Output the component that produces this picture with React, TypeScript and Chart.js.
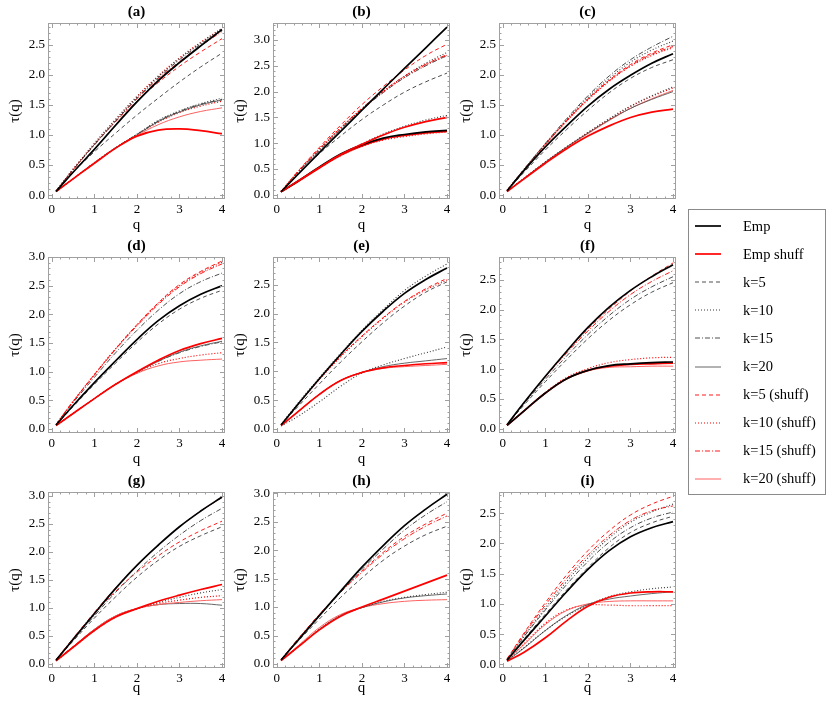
import React, { useEffect, useRef } from 'react';
import { Chart, registerables } from 'chart.js';

Chart.register(...registerables);

// ---------------- data ----------------
const Q = [0.1, 0.5, 1, 1.5, 2, 2.5, 3, 3.5, 4];

const LEGEND_LABELS = [
  'Emp', 'Emp shuff', 'k=5', 'k=10', 'k=15', 'k=20',
  'k=5 (shuff)', 'k=10 (shuff)', 'k=15 (shuff)', 'k=20 (shuff)',
];

const PANEL_TITLES = ['(a)', '(b)', '(c)', '(d)', '(e)', '(f)', '(g)', '(h)', '(i)'];
const X_TICKS = [0, 1, 2, 3, 4];
const Y_MIN = [-0.065, -0.08, -0.065, -0.07, -0.07, -0.07, -0.07, -0.07, -0.06];
const Y_MAX = [2.86, 3.33, 2.86, 3.0, 2.98, 2.88, 3.07, 3.02, 2.85];

// each entry: [legend series index, tau values at Q]
type Line = [number, number[]];

const PANEL_A: Line[] = [
  [0, [0.06, 0.38, 0.76, 1.16, 1.55, 1.90, 2.20, 2.48, 2.75]],
  [5, [0.06, 0.38, 0.77, 1.17, 1.56, 1.91, 2.21, 2.49, 2.76]],
  [2, [0.07, 0.38, 0.72, 1.03, 1.33, 1.61, 1.88, 2.13, 2.36]],
  [3, [0.07, 0.43, 0.85, 1.25, 1.63, 1.97, 2.27, 2.53, 2.77]],
  [4, [0.07, 0.42, 0.83, 1.23, 1.61, 1.95, 2.25, 2.51, 2.75]],
  [6, [0.07, 0.42, 0.84, 1.22, 1.56, 1.87, 2.14, 2.38, 2.60]],
  [7, [0.07, 0.43, 0.86, 1.26, 1.64, 1.98, 2.28, 2.54, 2.77]],
  [8, [0.07, 0.42, 0.84, 1.23, 1.60, 1.93, 2.22, 2.48, 2.72]],
  [1, [0.06, 0.27, 0.53, 0.78, 0.98, 1.08, 1.10, 1.07, 1.02]],
  [9, [0.06, 0.27, 0.53, 0.78, 0.99, 1.17, 1.30, 1.39, 1.45]],
  [3, [0.06, 0.27, 0.54, 0.79, 1.01, 1.24, 1.40, 1.52, 1.61]],
  [4, [0.06, 0.27, 0.54, 0.79, 1.01, 1.23, 1.39, 1.51, 1.59]],
  [5, [0.06, 0.27, 0.53, 0.78, 1.00, 1.22, 1.38, 1.50, 1.58]],
  [7, [0.06, 0.27, 0.53, 0.78, 1.00, 1.21, 1.37, 1.48, 1.56]],
];

const PANEL_B: Line[] = [
  [0, [0.06, 0.40, 0.82, 1.23, 1.64, 2.05, 2.45, 2.85, 3.25]],
  [6, [0.07, 0.46, 0.92, 1.35, 1.75, 2.10, 2.42, 2.70, 2.92]],
  [8, [0.07, 0.45, 0.89, 1.30, 1.68, 2.01, 2.30, 2.53, 2.72]],
  [7, [0.07, 0.45, 0.89, 1.30, 1.67, 2.00, 2.28, 2.52, 2.70]],
  [3, [0.07, 0.44, 0.87, 1.28, 1.66, 2.00, 2.30, 2.55, 2.76]],
  [4, [0.07, 0.44, 0.86, 1.27, 1.65, 1.98, 2.27, 2.50, 2.70]],
  [2, [0.07, 0.41, 0.80, 1.14, 1.46, 1.74, 1.99, 2.19, 2.36]],
  [1, [0.06, 0.27, 0.53, 0.78, 0.98, 1.16, 1.31, 1.42, 1.50]],
  [3, [0.06, 0.27, 0.53, 0.78, 0.99, 1.18, 1.33, 1.45, 1.54]],
  [0, [0.06, 0.27, 0.54, 0.79, 0.97, 1.10, 1.17, 1.22, 1.25]],
  [1, [0.06, 0.26, 0.52, 0.77, 0.95, 1.08, 1.15, 1.20, 1.23]],
  [7, [0.06, 0.26, 0.52, 0.76, 0.94, 1.06, 1.13, 1.18, 1.22]],
];

const PANEL_C: Line[] = [
  [0, [0.07, 0.41, 0.80, 1.15, 1.48, 1.76, 1.99, 2.19, 2.35]],
  [4, [0.08, 0.43, 0.86, 1.27, 1.65, 1.98, 2.25, 2.46, 2.64]],
  [3, [0.08, 0.43, 0.85, 1.25, 1.62, 1.94, 2.21, 2.41, 2.56]],
  [6, [0.08, 0.43, 0.85, 1.24, 1.60, 1.91, 2.17, 2.36, 2.50]],
  [7, [0.08, 0.42, 0.84, 1.23, 1.58, 1.89, 2.14, 2.32, 2.45]],
  [8, [0.08, 0.43, 0.84, 1.23, 1.59, 1.90, 2.15, 2.34, 2.47]],
  [2, [0.07, 0.38, 0.75, 1.09, 1.41, 1.70, 1.94, 2.12, 2.25]],
  [1, [0.06, 0.27, 0.53, 0.77, 0.98, 1.15, 1.29, 1.38, 1.43]],
  [3, [0.06, 0.28, 0.55, 0.80, 1.04, 1.27, 1.48, 1.65, 1.80]],
  [7, [0.06, 0.28, 0.55, 0.80, 1.04, 1.26, 1.47, 1.64, 1.78]],
  [5, [0.06, 0.28, 0.55, 0.80, 1.03, 1.25, 1.44, 1.59, 1.72]],
  [9, [0.06, 0.28, 0.54, 0.79, 1.02, 1.24, 1.44, 1.60, 1.74]],
];

const PANEL_D: Line[] = [
  [0, [0.07, 0.41, 0.81, 1.19, 1.56, 1.89, 2.15, 2.35, 2.50]],
  [6, [0.08, 0.48, 0.95, 1.40, 1.82, 2.20, 2.52, 2.75, 2.93]],
  [8, [0.08, 0.48, 0.94, 1.39, 1.80, 2.17, 2.48, 2.71, 2.88]],
  [7, [0.08, 0.48, 0.95, 1.40, 1.81, 2.19, 2.50, 2.73, 2.91]],
  [4, [0.08, 0.46, 0.90, 1.33, 1.72, 2.07, 2.36, 2.57, 2.72]],
  [2, [0.07, 0.39, 0.78, 1.15, 1.51, 1.83, 2.09, 2.28, 2.42]],
  [1, [0.06, 0.27, 0.53, 0.78, 1.00, 1.20, 1.37, 1.49, 1.58]],
  [5, [0.06, 0.27, 0.53, 0.78, 0.99, 1.18, 1.34, 1.45, 1.53]],
  [4, [0.06, 0.27, 0.53, 0.78, 0.99, 1.18, 1.33, 1.44, 1.52]],
  [7, [0.06, 0.27, 0.53, 0.78, 0.98, 1.14, 1.23, 1.29, 1.33]],
  [9, [0.06, 0.27, 0.53, 0.78, 0.97, 1.10, 1.17, 1.20, 1.22]],
];

const PANEL_E: Line[] = [
  [0, [0.07, 0.43, 0.87, 1.29, 1.69, 2.04, 2.35, 2.59, 2.79]],
  [3, [0.08, 0.45, 0.89, 1.31, 1.71, 2.07, 2.40, 2.65, 2.86]],
  [6, [0.07, 0.43, 0.86, 1.26, 1.61, 1.93, 2.21, 2.43, 2.61]],
  [7, [0.07, 0.43, 0.86, 1.25, 1.60, 1.92, 2.20, 2.41, 2.58]],
  [2, [0.07, 0.39, 0.78, 1.16, 1.51, 1.84, 2.13, 2.37, 2.55]],
  [1, [0.06, 0.30, 0.60, 0.84, 0.98, 1.06, 1.10, 1.13, 1.15]],
  [3, [0.05, 0.22, 0.47, 0.74, 0.97, 1.11, 1.22, 1.32, 1.42]],
  [5, [0.06, 0.30, 0.60, 0.84, 0.98, 1.08, 1.14, 1.18, 1.22]],
  [9, [0.06, 0.30, 0.60, 0.84, 0.98, 1.05, 1.08, 1.10, 1.12]],
];

const PANEL_F: Line[] = [
  [0, [0.07, 0.44, 0.88, 1.30, 1.70, 2.04, 2.32, 2.55, 2.75]],
  [6, [0.07, 0.44, 0.88, 1.29, 1.67, 2.01, 2.31, 2.56, 2.78]],
  [8, [0.07, 0.44, 0.87, 1.27, 1.64, 1.97, 2.25, 2.47, 2.65]],
  [4, [0.07, 0.42, 0.83, 1.22, 1.58, 1.90, 2.17, 2.38, 2.55]],
  [2, [0.07, 0.40, 0.79, 1.16, 1.51, 1.82, 2.08, 2.29, 2.45]],
  [0, [0.06, 0.30, 0.60, 0.84, 0.98, 1.06, 1.09, 1.11, 1.12]],
  [1, [0.06, 0.30, 0.60, 0.84, 0.98, 1.05, 1.08, 1.09, 1.10]],
  [7, [0.06, 0.30, 0.61, 0.86, 1.01, 1.11, 1.16, 1.19, 1.20]],
  [9, [0.06, 0.30, 0.60, 0.84, 0.97, 1.03, 1.04, 1.05, 1.05]],
];

const PANEL_G: Line[] = [
  [0, [0.07, 0.44, 0.90, 1.35, 1.76, 2.12, 2.45, 2.73, 2.98]],
  [8, [0.08, 0.46, 0.92, 1.36, 1.76, 2.12, 2.45, 2.73, 2.97]],
  [4, [0.07, 0.43, 0.86, 1.28, 1.66, 2.00, 2.30, 2.56, 2.78]],
  [6, [0.08, 0.45, 0.90, 1.30, 1.64, 1.93, 2.18, 2.38, 2.55]],
  [2, [0.07, 0.41, 0.82, 1.20, 1.55, 1.85, 2.10, 2.29, 2.45]],
  [1, [0.06, 0.30, 0.60, 0.84, 0.99, 1.12, 1.23, 1.33, 1.42]],
  [3, [0.06, 0.30, 0.60, 0.84, 0.99, 1.10, 1.19, 1.27, 1.33]],
  [7, [0.06, 0.30, 0.60, 0.84, 0.99, 1.08, 1.14, 1.19, 1.22]],
  [9, [0.06, 0.31, 0.62, 0.86, 0.99, 1.06, 1.10, 1.13, 1.15]],
  [5, [0.06, 0.31, 0.62, 0.86, 0.99, 1.06, 1.08, 1.08, 1.05]],
];

const PANEL_H: Line[] = [
  [0, [0.07, 0.42, 0.85, 1.28, 1.70, 2.08, 2.43, 2.72, 2.98]],
  [4, [0.07, 0.42, 0.85, 1.26, 1.66, 2.02, 2.35, 2.62, 2.85]],
  [6, [0.08, 0.44, 0.87, 1.27, 1.63, 1.96, 2.24, 2.46, 2.65]],
  [8, [0.08, 0.44, 0.87, 1.26, 1.61, 1.93, 2.20, 2.42, 2.60]],
  [2, [0.07, 0.40, 0.79, 1.17, 1.51, 1.82, 2.07, 2.27, 2.42]],
  [1, [0.06, 0.30, 0.60, 0.84, 1.00, 1.14, 1.28, 1.42, 1.56]],
  [3, [0.06, 0.30, 0.61, 0.85, 0.99, 1.10, 1.17, 1.22, 1.26]],
  [5, [0.06, 0.30, 0.61, 0.85, 0.99, 1.09, 1.16, 1.20, 1.23]],
  [9, [0.06, 0.32, 0.64, 0.87, 0.99, 1.06, 1.10, 1.12, 1.13]],
];

const PANEL_I: Line[] = [
  [0, [0.07, 0.40, 0.80, 1.20, 1.57, 1.88, 2.11, 2.26, 2.36]],
  [6, [0.09, 0.52, 1.02, 1.48, 1.88, 2.21, 2.47, 2.65, 2.78]],
  [8, [0.09, 0.50, 0.98, 1.42, 1.81, 2.13, 2.38, 2.54, 2.62]],
  [3, [0.08, 0.47, 0.93, 1.37, 1.76, 2.09, 2.35, 2.52, 2.65]],
  [4, [0.08, 0.46, 0.90, 1.32, 1.70, 2.02, 2.26, 2.42, 2.52]],
  [2, [0.07, 0.42, 0.83, 1.23, 1.60, 1.93, 2.18, 2.34, 2.45]],
  [1, [0.05, 0.20, 0.44, 0.72, 0.96, 1.11, 1.18, 1.20, 1.20]],
  [3, [0.06, 0.28, 0.56, 0.80, 0.98, 1.12, 1.20, 1.25, 1.28]],
  [5, [0.06, 0.27, 0.56, 0.81, 0.99, 1.08, 1.13, 1.17, 1.20]],
  [9, [0.07, 0.33, 0.66, 0.89, 1.00, 1.04, 1.05, 1.05, 1.05]],
  [7, [0.07, 0.34, 0.68, 0.90, 0.98, 0.98, 0.97, 0.97, 0.97]],
];

const PANELS: Line[][] = [PANEL_A, PANEL_B, PANEL_C, PANEL_D, PANEL_E, PANEL_F, PANEL_G, PANEL_H, PANEL_I];

// ---------------- styles ----------------
const FONT = "'Liberation Serif', 'Times New Roman', serif";
const STYLE_COLOR = ['#000000', '#ff0000', '#3a3a3a', '#3a3a3a', '#3a3a3a', '#555555', '#ff0000', '#ff0000', '#ff0000', '#ff6060'];
const STYLE_WIDTH = [1.7, 1.7, 0.9, 1.1, 0.9, 0.9, 0.9, 1.2, 0.9, 1.0];
const STYLE_DASH: number[][] = [[], [], [4, 3], [1, 2], [5, 2, 1, 2], [], [4, 3], [1, 2], [5, 2, 1, 2], []];

const X_MIN = -0.09;
const X_MAX = 4.07;
const COL_LEFT = [48, 273, 499];
const ROW_TOP = [23, 257, 491.5];
const PLOT_W = 177;
const PLOT_H = 176;
const Y_AXIS_W = 48;
const TITLE_H = 23;
const X_AXIS_H = 36;
const RIGHT_PAD = 6;
const Q_PAD = [1, 1, 7];

const framePlugin = {
  id: 'mmaFrame',
  afterDatasetsDraw(chart: any) {
    const { ctx, chartArea: a, scales } = chart;
    const xs = scales.x;
    const ys = scales.y;
    ctx.save();
    ctx.strokeStyle = '#a0a0a0';
    ctx.lineWidth = 1;
    ctx.strokeRect(Math.round(a.left) + 0.5, Math.round(a.top) + 0.5, Math.round(a.right - a.left) - 1, Math.round(a.bottom - a.top) - 1);
    ctx.beginPath();
    for (let k = Math.ceil(ys.min * 10 - 1e-9); k <= Math.floor(ys.max * 10 + 1e-9); k++) {
      const py = Math.round(ys.getPixelForValue(k / 10)) + 0.5;
      const len = k % 5 === 0 ? 5 : 2.5;
      ctx.moveTo(a.left, py); ctx.lineTo(a.left + len, py);
      ctx.moveTo(a.right, py); ctx.lineTo(a.right - len, py);
    }
    for (let k = Math.ceil(xs.min * 5 - 1e-9); k <= Math.floor(xs.max * 5 + 1e-9); k++) {
      const px = Math.round(xs.getPixelForValue(k / 5)) + 0.5;
      const len = k % 5 === 0 ? 5 : 2.5;
      ctx.moveTo(px, a.bottom); ctx.lineTo(px, a.bottom - len);
      ctx.moveTo(px, a.top); ctx.lineTo(px, a.top + len);
    }
    ctx.stroke();
    ctx.restore();
  },
};

function Panel({ idx }: { idx: number }) {
  const ref = useRef<HTMLCanvasElement>(null);
  const row = Math.floor(idx / 3);
  const col = idx % 3;
  const width = Y_AXIS_W + PLOT_W + RIGHT_PAD;
  const height = TITLE_H + PLOT_H + X_AXIS_H;

  useEffect(() => {
    if (!ref.current) return;
    const lines = PANELS[idx];
    const chart = new Chart(ref.current, {
      type: 'line',
      data: {
        datasets: lines.map(([s, vals]) => ({
          label: LEGEND_LABELS[s],
          data: Q.map((q, i) => ({ x: q, y: vals[i] })),
          borderColor: STYLE_COLOR[s],
          borderWidth: STYLE_WIDTH[s],
          borderDash: STYLE_DASH[s],
          pointRadius: 0,
          tension: 0.4,
          fill: false,
        })),
      },
      options: {
        animation: false,
        responsive: false,
        devicePixelRatio: 1,
        events: [],
        layout: { padding: { left: 0, top: 0, right: RIGHT_PAD, bottom: 0 } },
        plugins: {
          legend: { display: false },
          tooltip: { enabled: false },
          title: {
            display: true,
            text: PANEL_TITLES[idx],
            fullSize: false,
            color: '#000',
            font: { family: FONT, size: 15, weight: 'bold' },
            padding: { top: 3, bottom: 2 },
          },
        },
        scales: {
          x: {
            type: 'linear',
            min: X_MIN,
            max: X_MAX,
            afterBuildTicks: (s: any) => { s.ticks = X_TICKS.map((v) => ({ value: v })); },
            ticks: {
              autoSkip: false,
              maxRotation: 0,
              padding: 3,
              color: '#000',
              font: { family: FONT, size: 13 },
              callback: (v: any) => String(v),
            },
            grid: { display: false, drawTicks: false, tickLength: 0 },
            border: { display: false },
            title: {
              display: true,
              text: 'q',
              color: '#000',
              font: { family: FONT, size: 15 },
              padding: { top: 0, bottom: Q_PAD[row] },
            },
            afterFit: (s: any) => { s.height = X_AXIS_H; },
          },
          y: {
            type: 'linear',
            min: Y_MIN[idx],
            max: Y_MAX[idx],
            ticks: {
              stepSize: 0.5,
              includeBounds: false,
              autoSkip: false,
              padding: 3,
              color: '#000',
              font: { family: FONT, size: 13 },
              callback: (v: any) => Number(v).toFixed(1),
            },
            grid: { display: false, drawTicks: false, tickLength: 0 },
            border: { display: false },
            title: {
              display: true,
              text: 'τ(q)',
              color: '#000',
              font: { family: FONT, size: 15 },
              padding: { top: 6, bottom: 0 },
            },
            afterFit: (s: any) => { s.width = Y_AXIS_W; },
          },
        },
      } as any,
      plugins: [framePlugin],
    });
    return () => chart.destroy();
  }, [idx]);

  return (
    <canvas
      ref={ref}
      width={width}
      height={height}
      style={{
        position: 'absolute',
        left: COL_LEFT[col] - Y_AXIS_W,
        top: ROW_TOP[row] - TITLE_H,
        width,
        height,
      }}
    />
  );
}

function LegendBox() {
  return (
    <div
      style={{
        position: 'absolute',
        left: 688,
        top: 209,
        width: 138,
        height: 286,
        border: '1px solid #8a8a8a',
        boxSizing: 'border-box',
        background: '#fff',
      }}
    >
      {LEGEND_LABELS.map((lab, i) => (
        <div
          key={lab}
          style={{
            position: 'absolute',
            left: 0,
            top: 16 + i * 28.1 - 10,
            height: 20,
            width: 136,
            display: 'flex',
            alignItems: 'center',
          }}
        >
          <svg width={26} height={4} style={{ marginLeft: 6, display: 'block' }}>
            <line
              x1={0}
              y1={2}
              x2={26}
              y2={2}
              stroke={STYLE_COLOR[i]}
              strokeWidth={STYLE_WIDTH[i]}
              strokeDasharray={STYLE_DASH[i].length ? STYLE_DASH[i].join(' ') : undefined}
            />
          </svg>
          <span style={{ marginLeft: 22, fontFamily: FONT, fontSize: 14.5, color: '#000', whiteSpace: 'nowrap' }}>{lab}</span>
        </div>
      ))}
    </div>
  );
}

export default function App() {
  return (
    <div style={{ position: 'absolute', left: 0, top: 0, width: 830, height: 705, background: '#fff' }}>
      {PANEL_TITLES.map((_, i) => (
        <Panel key={i} idx={i} />
      ))}
      <LegendBox />
    </div>
  );
}
